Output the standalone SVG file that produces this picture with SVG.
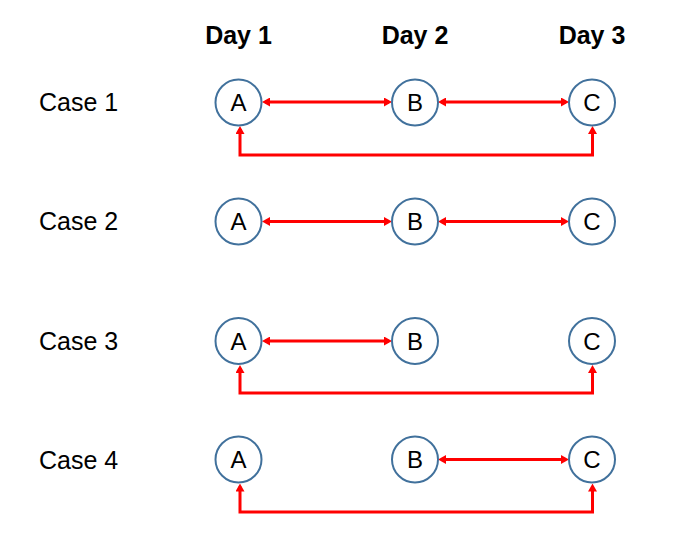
<svg xmlns="http://www.w3.org/2000/svg" width="677" height="553" viewBox="0 0 677 553">
<defs>
<style>
.lbl{font-family:"Liberation Sans",Arial,sans-serif;font-size:25px;fill:#000}
.day{font-family:"Liberation Sans",Arial,sans-serif;font-size:25px;font-weight:bold;fill:#000;text-anchor:middle}
.node circle{fill:#fff;stroke:#41719C;stroke-width:2}
.node text{font-family:"Liberation Sans",Arial,sans-serif;font-size:24px;fill:#000;text-anchor:middle}
.conn{fill:none;stroke:#FF0000;stroke-width:3;marker-start:url(#ah);marker-end:url(#ah)}
</style>
<marker id="ah" markerUnits="userSpaceOnUse" viewBox="0 0 8 9" markerWidth="8" markerHeight="9" refX="5" refY="4.5" orient="auto-start-reverse">
<path d="M0,0 L8,4.5 L0,9 z" fill="#FF0000"/>
</marker>
</defs>
<rect width="677" height="553" fill="#fff"/>
<g id="headers">
<text class="day" x="238.5" y="44">Day 1</text>
<text class="day" x="415" y="44">Day 2</text>
<text class="day" x="592" y="44">Day 3</text>
</g>
<g id="case-labels">
<text class="lbl" x="39" y="111">Case 1</text>
<text class="lbl" x="39" y="230">Case 2</text>
<text class="lbl" x="39" y="349.5">Case 3</text>
<text class="lbl" x="39" y="469">Case 4</text>
</g>
<g id="connectors">
<line class="conn" x1="265" y1="102" x2="389" y2="102"/>
<line class="conn" x1="441" y1="102" x2="566" y2="102"/>
<polyline class="conn" points="240,129 240,155 592.5,155 592.5,129"/>
<line class="conn" x1="265" y1="221.5" x2="389" y2="221.5"/>
<line class="conn" x1="441" y1="221.5" x2="566" y2="221.5"/>
<line class="conn" x1="265" y1="341" x2="389" y2="341"/>
<polyline class="conn" points="240,368 240,393 592.5,393 592.5,368"/>
<line class="conn" x1="441" y1="459.5" x2="566" y2="459.5"/>
<polyline class="conn" points="240,486.5 240,512 592.5,512 592.5,486.5"/>
</g>
<g id="case1-A" class="node"><circle cx="238.5" cy="102.5" r="23"/><text x="238.5" y="111">A</text></g>
<g id="case1-B" class="node"><circle cx="415" cy="102.5" r="23"/><text x="415" y="111">B</text></g>
<g id="case1-C" class="node"><circle cx="592" cy="102.5" r="23"/><text x="592" y="111">C</text></g>
<g id="case2-A" class="node"><circle cx="238.5" cy="221.5" r="23"/><text x="238.5" y="230">A</text></g>
<g id="case2-B" class="node"><circle cx="415" cy="221.5" r="23"/><text x="415" y="230">B</text></g>
<g id="case2-C" class="node"><circle cx="592" cy="221.5" r="23"/><text x="592" y="230">C</text></g>
<g id="case3-A" class="node"><circle cx="238.5" cy="341" r="23"/><text x="238.5" y="349.5">A</text></g>
<g id="case3-B" class="node"><circle cx="415" cy="341" r="23"/><text x="415" y="349.5">B</text></g>
<g id="case3-C" class="node"><circle cx="592" cy="341" r="23"/><text x="592" y="349.5">C</text></g>
<g id="case4-A" class="node"><circle cx="238.5" cy="459.5" r="23"/><text x="238.5" y="468">A</text></g>
<g id="case4-B" class="node"><circle cx="415" cy="459.5" r="23"/><text x="415" y="468">B</text></g>
<g id="case4-C" class="node"><circle cx="592" cy="459.5" r="23"/><text x="592" y="468">C</text></g>
</svg>
